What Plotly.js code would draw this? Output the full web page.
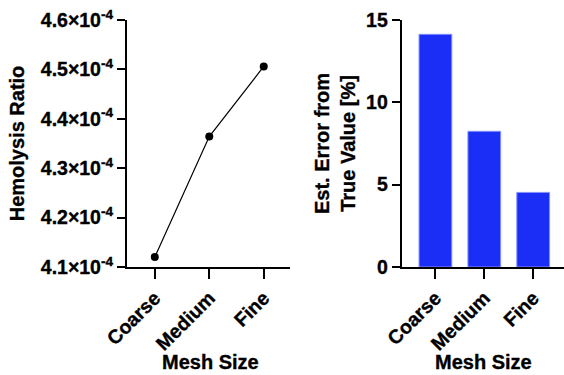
<!DOCTYPE html>
<html>
<head>
<meta charset="utf-8">
<script src="https://cdn.plot.ly/plotly-3.0.1.min.js"></script>
<style>
html,body{margin:0;padding:0;background:#fff;}
#chart{width:564px;height:375px;}
#chart svg text{stroke:#000;stroke-width:0.35px;}
</style>
</head>
<body>
<div id="chart"></div>
<script>
var categories = ["Coarse", "Medium", "Fine"];
var hemolysisRatio = [4.120e-4, 4.364e-4, 4.506e-4];
var estError = [14.13, 8.24, 4.53];
var leftTickVals = [4.1e-4, 4.2e-4, 4.3e-4, 4.4e-4, 4.5e-4, 4.6e-4];
var leftTickText = ["4.1×10<sup>-4</sup>", "4.2×10<sup>-4</sup>", "4.3×10<sup>-4</sup>", "4.4×10<sup>-4</sup>", "4.5×10<sup>-4</sup>", "4.6×10<sup>-4</sup>"];
var rightTickVals = [0, 5, 10, 15];
var xTitle = "Mesh Size";

var FONT = "Liberation Sans, Arial, sans-serif";
var tickFont = {family: FONT, size: 19.5, color: "#000", weight: "bold"};
var titleFont = {family: FONT, size: 20, color: "#000", weight: "bold"};

var traces = [
  {
    type: "scatter", mode: "lines+markers",
    x: categories, y: hemolysisRatio,
    xaxis: "x", yaxis: "y",
    line: {color: "#000", width: 1.2},
    marker: {color: "#000", size: 8},
    cliponaxis: false, hoverinfo: "skip"
  },
  {
    type: "bar",
    x: categories, y: estError,
    xaxis: "x2", yaxis: "y2",
    width: 0.67,
    marker: {color: "#1a2ef5", line: {color: "#8391ff", width: 1}},
    hoverinfo: "skip"
  }
];

var axisCommon = {
  showgrid: false, zeroline: false, showline: true,
  linecolor: "#000", linewidth: 2,
  ticks: "outside", tickcolor: "#000", tickwidth: 2,
  tickfont: tickFont
};

var layout = {
  width: 564, height: 375,
  margin: {l: 0, r: 0, t: 0, b: 0},
  paper_bgcolor: "#fff", plot_bgcolor: "#fff",
  showlegend: false,
  xaxis: Object.assign({}, axisCommon, {
    domain: [0.2252, 0.514], anchor: "y",
    type: "category", range: [-0.51, 2.48],
    ticklen: 10, tickangle: -45
  }),
  yaxis: Object.assign({}, axisCommon, {
    domain: [0.288, 0.9467], anchor: "x",
    range: [4.1e-4, 4.6e-4],
    tickvals: leftTickVals, ticktext: leftTickText,
    ticklen: 8,
    title: {text: "Hemolysis Ratio", font: titleFont, standoff: 11}
  }),
  xaxis2: Object.assign({}, axisCommon, {
    domain: [0.7122, 1.0], anchor: "y2",
    type: "category", range: [-0.69, 2.63],
    ticklen: 10, tickangle: -45
  }),
  yaxis2: Object.assign({}, axisCommon, {
    domain: [0.288, 0.9467], anchor: "x2",
    range: [0, 15],
    tickvals: rightTickVals,
    ticklen: 8,
    title: {text: "Est. Error from<br>True Value [%]", font: titleFont, standoff: 5}
  }),
  annotations: [
    {text: xTitle, xref: "paper", yref: "paper", x: 0.3732, y: 0.0347,
     xanchor: "center", yanchor: "middle", showarrow: false, font: titleFont, borderpad: 0},
    {text: xTitle, xref: "paper", yref: "paper", x: 0.858, y: 0.0347,
     xanchor: "center", yanchor: "middle", showarrow: false, font: titleFont, borderpad: 0}
  ]
};

Plotly.newPlot("chart", traces, layout, {staticPlot: true, displayModeBar: false});
</script>
</body>
</html>
